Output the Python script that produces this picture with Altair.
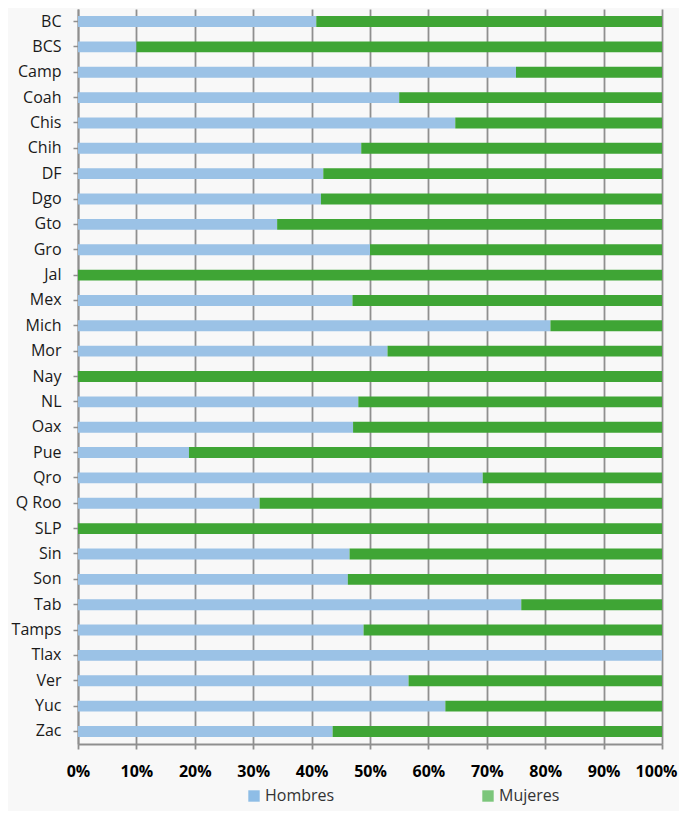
import altair as alt
import pandas as pd

estados = ["BC", "BCS", "Camp", "Coah", "Chis", "Chih", "DF", "Dgo", "Gto", "Gro",
           "Jal", "Mex", "Mich", "Mor", "Nay", "NL", "Oax", "Pue", "Qro", "Q Roo",
           "SLP", "Sin", "Son", "Tab", "Tamps", "Tlax", "Ver", "Yuc", "Zac"]
hombres = [40.8, 10.0, 75.0, 55.0, 64.6, 48.5, 42.0, 41.6, 34.1, 50.0,
           0.0, 47.0, 80.9, 53.0, 0.0, 48.0, 47.1, 19.0, 69.3, 31.1,
           0.0, 46.5, 46.2, 75.9, 48.9, 100.0, 56.6, 62.9, 43.6]
mujeres = [round(100 - h, 1) for h in hombres]
series = ["Hombres", "Mujeres"]
bar_colors = ["#9bc2e6", "#3fa535"]
legend_colors = ["#8ebde6", "#7cc67b"]

rows = []
for e, h, m in zip(estados, hombres, mujeres):
    rows.append({"Estado": e, "Sexo": "Hombres", "Valor": h, "orden": 0})
    rows.append({"Estado": e, "Sexo": "Mujeres", "Valor": m, "orden": 1})
df = pd.DataFrame(rows)

FONT = "Open Sans"

x_enc = alt.X(
    "Valor:Q", stack="normalize",
    scale=alt.Scale(domain=[0, 1], nice=False),
    axis=alt.Axis(
        format="%", values=[i / 10 for i in range(11)], title=None,
        labelFontWeight="bold", labelFontSize=16, labelColor="#000000", labelFont=FONT,
        labelPadding=14, labelFlush=False,
        labelOffset={"condition": {"test": "datum.value >= 1", "value": -6}, "value": 0},
        tickSize=5, tickColor="#8f8f8f", tickWidth=1.8,
        domainColor="#8f8f8f", domainWidth=1.8,
        grid=True, gridColor="#8f8f8f", gridWidth=1.8,
    ),
)
y_enc = alt.Y(
    "Estado:N", sort=estados,
    scale=alt.Scale(paddingInner=0.57, paddingOuter=0.28),
    axis=alt.Axis(
        title=None, labelFontSize=16, labelColor="#1a1a1a", labelFont=FONT,
        labelPadding=12, tickSize=5, tickColor="#8f8f8f", tickWidth=1.5,
        domainColor="#8f8f8f", domainWidth=1.8, grid=False,
    ),
)

bars = alt.Chart(df).mark_bar().encode(
    x=x_enc,
    y=y_enc,
    color=alt.Color("Sexo:N", scale=alt.Scale(domain=series, range=bar_colors), legend=None),
    order=alt.Order("orden:Q"),
)

legend_layer = alt.Chart(df).mark_square(opacity=0).encode(
    x=alt.X("Valor:Q", stack="normalize"),
    y=alt.Y("Estado:N", sort=estados),
    color=alt.Color(
        "Sexo:N",
        scale=alt.Scale(domain=series, range=legend_colors),
        legend=alt.Legend(
            title=None, orient="none", direction="horizontal",
            legendX=168, legendY=779,
            symbolType="square", symbolSize=130, symbolOpacity=1, symbolStrokeWidth=0,
            labelFontSize=16, labelFont=FONT, labelColor="#333333", labelOffset=3,
            columnPadding=145,
        ),
    ),
)

chart = (
    alt.layer(bars, legend_layer)
    .resolve_scale(color="independent")
    .properties(
        width=584, height=735,
        autosize=alt.AutoSizeParams(type="none"),
        padding={"left": 70, "top": 1, "right": 17, "bottom": 67},
        background="#f8f8f8",
    )
    .configure_view(stroke=None)
)

chart.save("out.html", embed_options={"renderer": "svg", "actions": False})
